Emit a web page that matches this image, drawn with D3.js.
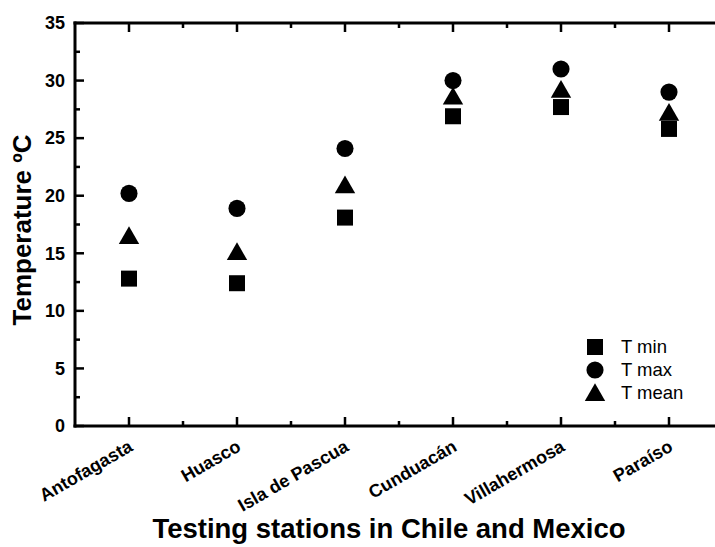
<!DOCTYPE html>
<html>
<head>
<meta charset="utf-8">
<script src="https://cdn.jsdelivr.net/npm/d3@7"></script>
<style>
  body { margin: 0; background: #fff; }
  svg text { font-family: "Liberation Sans", Arial, sans-serif; fill: #000; }
  svg .ink rect { fill: #000; }
</style>
</head>
<body>
<div id="chart"></div>
<script>
// stations and temperature readings (deg C)
var stations = ["Antofagasta", "Huasco", "Isla de Pascua", "Cunduacán", "Villahermosa", "Paraíso"];
var tMin  = [12.8, 12.4, 18.1, 26.9, 27.7, 25.8];
var tMax  = [20.2, 18.9, 24.1, 30.0, 31.0, 29.0];
var tMean = [16.5, 15.1, 20.9, 28.6, 29.2, 27.2];
var yTicks = [0, 5, 10, 15, 20, 25, 30, 35];
var seriesNames = ["T min", "T max", "T mean"];

var width = 715, height = 547;
var margin = {top: 23, left: 75, bottom: 121};

var svg = d3.select("#chart").append("svg")
    .attr("width", width)
    .attr("height", height);

// x is a linear index scale so the box extends half a step past the last station
var x = d3.scaleLinear()
    .domain([0.5, 6.5])
    .range([margin.left, margin.left + 108 * 6]);

var y = d3.scaleLinear()
    .domain([0, 35])
    .range([height - margin.bottom, margin.top]);

var x0 = margin.left, y0 = y(0), y1 = y(35);
var xMajor = d3.range(1, 7);
var xMinor = d3.range(1.5, 7, 1);
var yMinor = d3.range(2.5, 35, 5);
var lw = 3, tw = 2.5;

var ink = svg.append("g").attr("class", "ink");

// frame as filled bars (right side is off the page)
ink.append("rect").attr("x", x0 - lw / 2).attr("y", y1 - lw / 2)
    .attr("width", width - x0 + lw).attr("height", lw);
ink.append("rect").attr("x", x0 - lw / 2).attr("y", y0 - lw / 2)
    .attr("width", width - x0 + lw).attr("height", lw);
ink.append("rect").attr("x", x0 - lw / 2).attr("y", y1 - lw / 2)
    .attr("width", lw).attr("height", y0 - y1 + lw);

// ticks, all pointing inside the box
function yTickBars(vals, len){
    vals.forEach(function(v){
        ink.append("rect").attr("x", x0).attr("y", y(v) - tw / 2)
            .attr("width", len).attr("height", tw);
    });
}
function xTickBars(vals, len){
    vals.forEach(function(v){
        ink.append("rect").attr("x", x(v) - tw / 2).attr("y", y0 - len)
            .attr("width", tw).attr("height", len);
        ink.append("rect").attr("x", x(v) - tw / 2).attr("y", y1)
            .attr("width", tw).attr("height", len);
    });
}
yTickBars(yTicks, 9);
yTickBars(yMinor, 5);
xTickBars(xMajor, 9);
xTickBars(xMinor, 5);

// y tick labels
svg.selectAll(".ylab")
    .data(yTicks)
    .enter()
    .append("text")
    .attr("class", "ylab")
    .attr("x", x0 - 10)
    .attr("y", function(d){ return y(d); })
    .attr("dy", "0.35em")
    .attr("text-anchor", "end")
    .style("font-size", "18px")
    .style("font-weight", "bold")
    .text(function(d){ return d; });

// rotated station labels
svg.selectAll(".xlab")
    .data(stations)
    .enter()
    .append("text")
    .attr("class", "xlab")
    .attr("text-anchor", "end")
    .attr("transform", function(d, i){
        return "translate(" + (x(i + 1) + 5) + "," + (y0 + 24) + ") rotate(-30)";
    })
    .style("font-size", "18px")
    .style("font-weight", "bold")
    .text(function(d){ return d; });

// axis titles
svg.append("text")
    .attr("x", 389).attr("y", 538)
    .attr("text-anchor", "middle")
    .style("font-size", "27.5px").style("font-weight", "bold")
    .text("Testing stations in Chile and Mexico");

svg.append("text")
    .attr("transform", "translate(31,230) rotate(-90)")
    .attr("text-anchor", "middle")
    .style("font-size", "26px").style("font-weight", "bold")
    .text("Temperature ºC");

// markers
var symSquare = d3.symbol().type(d3.symbolSquare).size(256);
var symCircle = d3.symbol().type(d3.symbolCircle).size(230);
var symTri = d3.symbol().type(d3.symbolTriangle).size(180);

function drawSeries(vals, sym, dy){
    svg.append("g").selectAll("path")
        .data(vals)
        .enter()
        .append("path")
        .attr("d", sym)
        .attr("fill", "#000")
        .attr("transform", function(d, i){
            return "translate(" + x(i + 1) + "," + (y(d) + dy) + ")";
        });
}
drawSeries(tMin, symSquare, 0);
drawSeries(tMax, symCircle, 0);
drawSeries(tMean, symTri, 2);

// legend
var legendSyms = [symSquare, symCircle, symTri];
var lg = svg.append("g").attr("transform", "translate(595,347)");
seriesNames.forEach(function(name, i){
    lg.append("path")
        .attr("d", legendSyms[i])
        .attr("fill", "#000")
        .attr("transform", "translate(0," + (i * 23 + (i == 2 ? 2 : 0)) + ")");
    lg.append("text")
        .attr("x", 26).attr("y", i * 23 + 6)
        .style("font-size", "18.5px")
        .text(name);
});
</script>
</body>
</html>
